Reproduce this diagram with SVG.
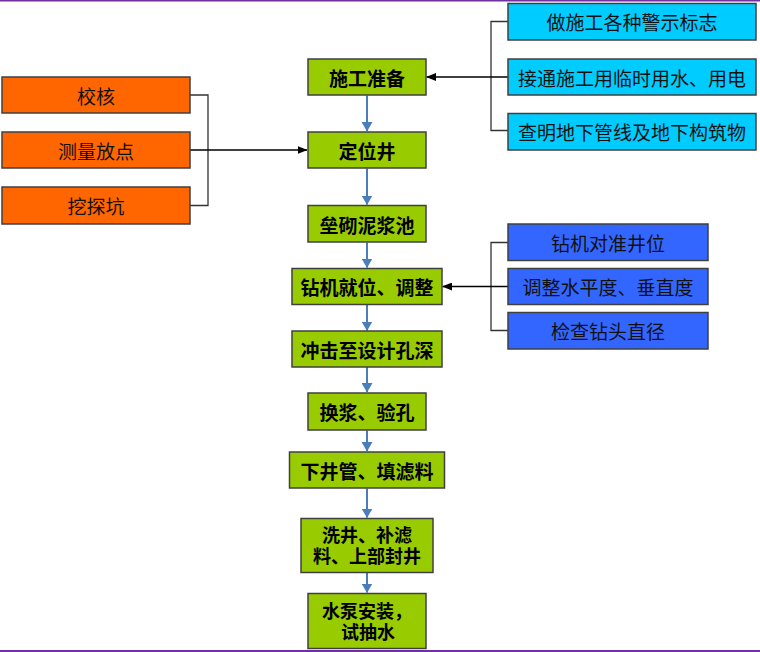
<svg xmlns="http://www.w3.org/2000/svg" width="760" height="652" viewBox="0 0 760 652">
<style>
  .box { stroke: #404040; stroke-width: 1.5; }
  .g { fill: #99CC00; }
  .o { fill: #FF6600; }
  .c { fill: #00CCFF; }
  .b { fill: #3366FF; }
  text { font-family: "Noto Sans CJK SC", "Noto Sans", sans-serif; font-size: 19px; text-anchor: middle; dominant-baseline: central; fill: #111; }
  .bold { font-weight: bold; fill: #000; }
  .two { font-size: 18px; }
  .flow { stroke: #4A7EBB; stroke-width: 2; fill: none; marker-end: url(#ab); }
  .br { stroke: #333; stroke-width: 1.3; fill: none; }
  .ar { stroke: #000; stroke-width: 1.3; fill: none; marker-end: url(#ak); }
</style>
<defs>
  <marker id="ab" viewBox="0 0 10 11" markerWidth="10" markerHeight="11" refX="9" refY="5.5" orient="auto" markerUnits="userSpaceOnUse">
    <path d="M0,0 L9.5,5.5 L0,11 z" fill="#4A7EBB"/>
  </marker>
  <marker id="ak" viewBox="0 0 10 8" markerWidth="10" markerHeight="8" refX="9.5" refY="4" orient="auto" markerUnits="userSpaceOnUse">
    <path d="M0,0 L10,4 L0,8 z" fill="#000"/>
  </marker>
</defs>
<rect x="0" y="0" width="760" height="652" fill="#fff"/>
<rect x="0" y="0" width="760" height="1.5" fill="#7030A0"/>
<rect x="0" y="650" width="760" height="2" fill="#7030A0"/>

<g id="connectors">
  <path class="flow" d="M367,95.5 V131"/>
  <path class="flow" d="M367,168.5 V204.5"/>
  <path class="flow" d="M367,242.5 V267.5"/>
  <path class="flow" d="M367,304.5 V330.5"/>
  <path class="flow" d="M367,367 V392"/>
  <path class="flow" d="M367,430.5 V451"/>
  <path class="flow" d="M367,488.5 V517.5"/>
  <path class="flow" d="M367,573 V592.5"/>
  <path class="br" d="M508,21.5 H491 V130.5 H508"/>
  <path class="ar" d="M508,77 H426.5"/>
  <path class="br" d="M190,95 H208 V205.5 H190"/>
  <path class="ar" d="M190,150 H307"/>
  <path class="br" d="M508,242.5 H491 V330.5 H508"/>
  <path class="ar" d="M508,286.5 H442.5"/>
</g>

<g id="n-prep"><rect class="box g" x="308" y="59" width="118" height="36"/><text class="bold" x="367" y="77">施工准备</text></g>
<g id="n-locate"><rect class="box g" x="308" y="132" width="118" height="36"/><text class="bold" x="367" y="150">定位井</text></g>
<g id="n-pool"><rect class="box g" x="308" y="205.5" width="118" height="36.5"/><text class="bold" x="367" y="224">垒砌泥浆池</text></g>
<g id="n-rig"><rect class="box g" x="292" y="268.5" width="150" height="36"/><text class="bold" x="367" y="286.5">钻机就位、调整</text></g>
<g id="n-drill"><rect class="box g" x="292" y="331" width="150" height="36"/><text class="bold" x="367" y="349">冲击至设计孔深</text></g>
<g id="n-slurry"><rect class="box g" x="308" y="393" width="118" height="37"/><text class="bold" x="367" y="411.5">换浆、验孔</text></g>
<g id="n-pipe"><rect class="box g" x="289.5" y="452" width="155" height="36"/><text class="bold" x="367" y="470">下井管、填滤料</text></g>
<g id="n-wash"><rect class="box g" x="301" y="518.5" width="132" height="54"/><text class="bold two"><tspan x="367" y="534">洗井、补滤</tspan><tspan x="367" y="555">料、上部封井</tspan></text></g>
<g id="n-pump"><rect class="box g" x="308" y="593.5" width="118" height="55"/><text class="bold two"><tspan x="367" y="610">水泵安装，</tspan><tspan x="368" y="631">试抽水</tspan></text></g>

<g id="n-check"><rect class="box o" x="2" y="77" width="188" height="36"/><text x="96" y="95">校核</text></g>
<g id="n-survey"><rect class="box o" x="2" y="132" width="188" height="36"/><text x="96" y="150">测量放点</text></g>
<g id="n-pit"><rect class="box o" x="2" y="187" width="188" height="37"/><text x="96" y="205.5">挖探坑</text></g>

<g id="n-sign"><rect class="box c" x="508" y="3.5" width="248" height="36.5"/><text x="632" y="21.5">做施工各种警示标志</text></g>
<g id="n-power"><rect class="box c" x="508" y="59" width="248" height="36"/><text x="632" y="77">接通施工用临时用水、用电</text></g>
<g id="n-pipes"><rect class="box c" x="508" y="113.5" width="248" height="36.5"/><text x="632" y="131.5">查明地下管线及地下构筑物</text></g>

<g id="n-align"><rect class="box b" x="508" y="224" width="200" height="36.5"/><text x="608" y="242.5">钻机对准井位</text></g>
<g id="n-level"><rect class="box b" x="508" y="268.5" width="200" height="36"/><text x="608" y="286.5">调整水平度、垂直度</text></g>
<g id="n-bit"><rect class="box b" x="508" y="312.5" width="200" height="36.5"/><text x="608" y="330.5">检查钻头直径</text></g>
</svg>
